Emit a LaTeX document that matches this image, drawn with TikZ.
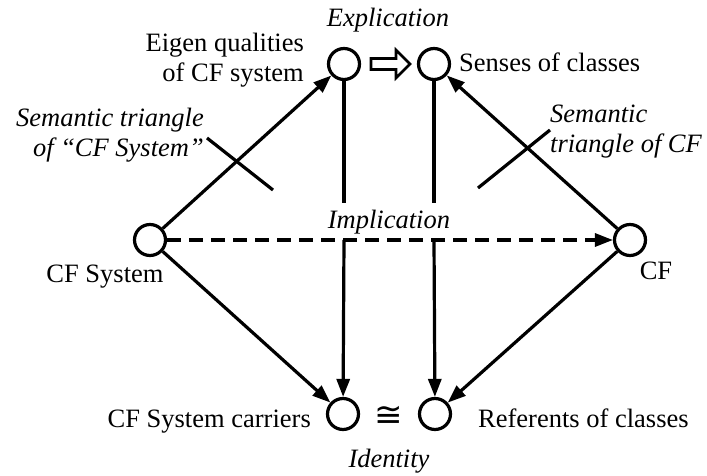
\documentclass[tikz,border=0pt]{standalone}
\usepackage{fontspec}
\setmainfont{Liberation Serif}
\newfontfamily\symfnt{DejaVu Sans}
\usetikzlibrary{arrows.meta}
\begin{document}
\begin{tikzpicture}[x=1pt,y=-1pt,
  state/.style={circle,draw,line width=3.2pt,minimum size=31pt,inner sep=0pt},
  con/.style={line width=3.2pt},
  arr/.style={con,-{Triangle[length=18pt,width=13pt]}},
  dsh/.style={arr,dash pattern=on 14pt off 8pt},
  lbl/.style={font=\fontsize{26.5}{30}\selectfont,inner sep=0pt},
  ilbl/.style={lbl,font=\fontsize{26.5}{30}\selectfont\itshape}]
\useasboundingbox (0,0) rectangle (707,476);
% states
\node[state] (eig) at (344,64) {};
\node[state] (sen) at (434,64) {};
\node[state] (sys) at (150,240) {};
\node[state] (cf) at (630,240) {};
\node[state] (car) at (343,414) {};
\node[state] (ref) at (435,414) {};
% break points for the vertical lines
\coordinate (lt) at (344,203);
\coordinate (lb) at (344,240);
\coordinate (rt) at (434,203);
\coordinate (rb) at (434,240);
% semantic triangle marks
\coordinate (m1a) at (207,138);
\coordinate (m1b) at (273,190);
\coordinate (m2a) at (550,130);
\coordinate (m2b) at (478,188);
% connectors
\draw[arr] (sys) -- (eig);
\draw[arr] (cf) -- (sen);
\draw[arr] (sys) -- (car);
\draw[arr] (cf) -- (ref);
\draw[dsh] (sys) -- (cf);
\draw[con] (eig) -- (lt);
\draw[arr] (lb) -- (car);
\draw[con] (sen) -- (rt);
\draw[arr] (rb) -- (ref);
\draw[con] (m1a) -- (m1b);
\draw[con] (m2a) -- (m2b);
% hollow arrow
\draw[line width=2.6pt,line join=miter] (371,58.5) -- (396,58.5) -- (396,50) -- (410,64) -- (396,78) -- (396,69.5) -- (371,69.5) -- cycle;
% labels
\node[ilbl,anchor=base] (ex) at (388,27) {Explication};
\node[lbl,anchor=base east] (e1) at (304,52) {Eigen qualities};
\node[lbl,anchor=base east] (e2) at (304,82) {of CF system};
\node[ilbl,anchor=base east] (s1) at (204,127) {Semantic triangle};
\node[ilbl,anchor=base east] (s2) at (204,157) {of “CF System”};
\node[lbl,anchor=base west] (se) at (459,72) {Senses of classes};
\node[ilbl,anchor=base west] (t1) at (550,123) {Semantic};
\node[ilbl,anchor=base west] (t2) at (550,153) {triangle of CF};
\node[ilbl,anchor=base] (im) at (389,228) {Implication};
\node[lbl,anchor=base] (cs) at (105,282) {CF System};
\node[lbl,anchor=base] (cfl) at (656,279) {CF};
\node[lbl,anchor=base east] (cc) at (311,427) {CF System carriers};
\node[lbl,font=\fontsize{34}{36}\symfnt] (cong) at (389,416) {≅};
\node[lbl,anchor=base west] (rc) at (478,427) {Referents of classes};
\node[ilbl,anchor=base] (id) at (389,467) {Identity};
\end{tikzpicture}
\end{document}
